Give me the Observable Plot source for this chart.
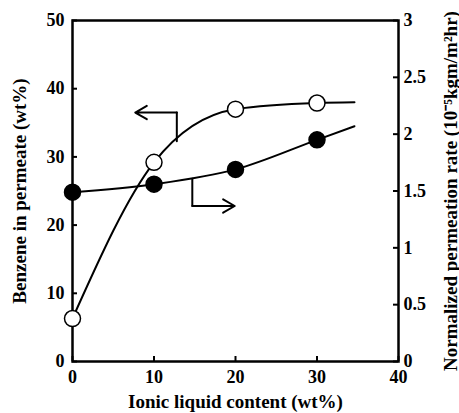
<!DOCTYPE html>
<html><head><meta charset="utf-8">
<script src="https://cdn.jsdelivr.net/npm/d3@7"></script>
<script src="https://cdn.jsdelivr.net/npm/@observablehq/plot@0.6"></script>
<style>body{margin:0;background:#fff} svg{display:block}</style>
</head><body><div id="chart"></div>
<script>
// measured data
const ionicContent = [0, 10, 20, 30];
const benzene = [6.3, 29.2, 37.0, 37.9];          // wt%, left axis
const permRate = [1.49, 1.56, 1.69, 1.95];        // 10^-5 kgm/m2hr, right axis
// fitted curves as drawn (extend beyond last point)
const benzeneCurveX = [0, 10, 20, 30, 34.6];
const benzeneCurveY = [6.3, 29.2, 37.0, 37.9, 38.0];
const rateCurveX = [0, 10, 20, 30, 34.6];
const rateCurveY = [1.49, 1.56, 1.69, 1.95, 2.07];
// tick values
const xTicks = [0, 10, 20, 30, 40];
const leftTicks = [0, 10, 20, 30, 40, 50];
const rightTicks = [0, 0.5, 1, 1.5, 2, 2.5, 3];
const rightTickLabels = ["0", "0.5", "1", "1.5", "2", "2.5", "3"];
// annotation arrows (x, left-axis units)
const leftArrowX = [12.8, 12.8, 7.7];
const leftArrowY = [32.3, 36.5, 36.5];
const rightArrowX = [14.7, 14.7, 19.9];
const rightArrowY = [26.8, 22.8, 22.8];

const k = 50 / 3; // right-axis to left-axis conversion
const openPts = ionicContent.map((x, i) => ({x, y: benzene[i]}));
const fillPts = ionicContent.map((x, i) => ({x, y: permRate[i] * k}));
const openCurve = benzeneCurveX.map((x, i) => ({x, y: benzeneCurveY[i]}));
const fillCurve = rateCurveX.map((x, i) => ({x, y: rateCurveY[i] * k}));
const la = leftArrowX.map((x, i) => ({x, y: leftArrowY[i]}));
const ra = rightArrowX.map((x, i) => ({x, y: rightArrowY[i]}));
const rTicks = rightTicks.map(v => v * k);

const W = 459, H = 413, mL = 72, mR = 61, mT = 20, mB = 52;
const pw = W - mL - mR, ph = H - mT - mB, tl = 5;
const titleFont = {fontSize: 19};

const chart = Plot.plot({
  width: W, height: H,
  marginLeft: mL, marginRight: mR, marginTop: mT, marginBottom: mB,
  style: {fontFamily: "'Liberation Serif', 'Times New Roman', serif", fontSize: "18px", fontWeight: "bold", background: "#fff", color: "#000"},
  x: {domain: [0, 40]},
  y: {domain: [0, 50]},
  marks: [
    // labels
    Plot.axisX({ticks: xTicks, tickSize: 0, tickPadding: 9, label: null}),
    Plot.axisY({anchor: "left", ticks: leftTicks, tickSize: 0, tickPadding: 8, label: null}),
    Plot.axisY({anchor: "right", ticks: rTicks, tickFormat: (d, i) => rightTickLabels[i], tickSize: 0, tickPadding: 5, label: null}),
    // inward ticks
    Plot.ruleX(xTicks, {x: d => d, insetTop: ph - tl, stroke: "#000", strokeWidth: 2}),
    Plot.ruleY(leftTicks, {y: d => d, insetRight: pw - tl, stroke: "#000", strokeWidth: 2}),
    Plot.ruleY(rTicks, {y: d => d, insetLeft: pw - tl, stroke: "#000", strokeWidth: 2}),
    // titles
    Plot.axisX({ticks: [], tickSize: 0, label: "Ionic liquid content (wt%)", labelAnchor: "center", labelArrow: "none", labelOffset: 46, ...titleFont}),
    Plot.axisY({anchor: "left", ticks: [], tickSize: 0, label: "Benzene in permeate (wt%)", labelAnchor: "center", labelArrow: "none", labelOffset: 60, ...titleFont}),
    Plot.axisY({anchor: "right", ticks: [], tickSize: 0, label: "Normalized permeation rate (10⁻⁵kgm/m²hr)", labelAnchor: "center", labelArrow: "none", labelOffset: 58, ...titleFont}),
    Plot.frame({stroke: "#000", strokeWidth: 2.5}),
    Plot.line(openCurve, {x: "x", y: "y", curve: "monotone-x", stroke: "#000", strokeWidth: 2}),
    Plot.line(fillCurve, {x: "x", y: "y", curve: "monotone-x", stroke: "#000", strokeWidth: 2}),
    Plot.line(la.slice(0, 2), {x: "x", y: "y", stroke: "#000", strokeWidth: 2}),
    Plot.arrow([{x1: la[1].x, y1: la[1].y, x2: la[2].x, y2: la[2].y}], {x1: "x1", y1: "y1", x2: "x2", y2: "y2", stroke: "#000", strokeWidth: 2, headLength: 10}),
    Plot.line(ra.slice(0, 2), {x: "x", y: "y", stroke: "#000", strokeWidth: 2}),
    Plot.arrow([{x1: ra[1].x, y1: ra[1].y, x2: ra[2].x, y2: ra[2].y}], {x1: "x1", y1: "y1", x2: "x2", y2: "y2", stroke: "#000", strokeWidth: 2, headLength: 10}),
    Plot.dot(openPts, {x: "x", y: "y", r: 8, fill: "#fff", stroke: "#000", strokeWidth: 1.5}),
    Plot.dot(fillPts, {x: "x", y: "y", r: 8, fill: "#000", stroke: "#000", strokeWidth: 1.5})
  ]
});
document.getElementById("chart").appendChild(chart);
</script>
</body></html>
